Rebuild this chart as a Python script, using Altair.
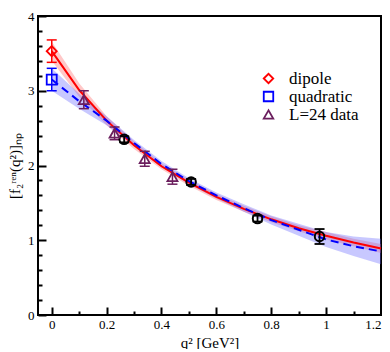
import altair as alt
import pandas as pd

# ---- data ----
q_grid = [0.0, 0.1, 0.2, 0.3, 0.4, 0.5, 0.6, 0.7, 0.8, 0.9, 1.0, 1.1, 1.2]
dipole_fit = [3.53, 3.01, 2.60, 2.27, 1.99, 1.77, 1.58, 1.42, 1.28, 1.16, 1.06, 0.97, 0.89]
dipole_err = [0.13, 0.09, 0.06, 0.05, 0.04, 0.04, 0.04, 0.04, 0.04, 0.04, 0.05, 0.05, 0.06]
quad_fit = [3.15, 2.86, 2.60, 2.30, 2.02, 1.79, 1.60, 1.43, 1.27, 1.14, 1.01, 0.92, 0.85]
quad_err = [0.15, 0.10, 0.06, 0.04, 0.04, 0.04, 0.04, 0.05, 0.06, 0.08, 0.10, 0.13, 0.17]

series_names = ["dipole", "quadratic", "L=24 data"]
series_colors = ["#ff0000", "#0000ff", "#6b1f5e"]
series_shapes = ["diamond", "square", "triangle-up"]

pt_series = ["dipole", "quadratic", "L=24 data", "L=24 data", "L=24 data", "L=24 data"]
pt_q = [0.0, 0.0, 0.117, 0.229, 0.339, 0.44]
pt_val = [3.53, 3.15, 2.88, 2.43, 2.09, 1.85]
pt_err = [0.15, 0.15, 0.12, 0.085, 0.10, 0.10]

circ_q = [0.264, 0.508, 0.75, 0.976]
circ_val = [2.35, 1.78, 1.29, 1.05]
circ_err = [0.04, 0.04, 0.04, 0.10]

x_major = [0, 0.2, 0.4, 0.6, 0.8, 1.0, 1.2]
x_minor = [0.1, 0.3, 0.5, 0.7, 0.9, 1.1]
y_major = [0, 1, 2, 3, 4]
y_minor = [0.2, 0.4, 0.6, 0.8, 1.2, 1.4, 1.6, 1.8, 2.2, 2.4, 2.6, 2.8, 3.2, 3.4, 3.6, 3.8]

# ---- tables ----
dip = pd.DataFrame({"q": q_grid, "v": dipole_fit, "e": dipole_err})
dip["lo"] = dip.v - dip.e
dip["hi"] = dip.v + dip.e
quad = pd.DataFrame({"q": q_grid, "v": quad_fit, "e": quad_err})
quad["lo"] = quad.v - quad.e
quad["hi"] = quad.v + quad.e
pts = pd.DataFrame({"series": pt_series, "q": pt_q, "v": pt_val, "e": pt_err})
pts["lo"] = pts.v - pts.e
pts["hi"] = pts.v + pts.e
circ = pd.DataFrame({"q": circ_q, "v": circ_val, "e": circ_err})
circ["lo"] = circ.v - circ.e
circ["hi"] = circ.v + circ.e

FONT = "Liberation Serif"
LFONT = "Liberation Serif, Times New Roman, serif"
xs = alt.Scale(domain=[-0.05, 1.2], nice=False, zero=False)
ys = alt.Scale(domain=[0, 4], nice=False, zero=False)

major_x = alt.Axis(values=x_major, format="~g", orient="bottom", offset=-8, tickSize=8,
                   tickWidth=2, tickColor="black", domain=False, grid=False,
                   labelPadding=3, labelFont=FONT, labelFontSize=13, labelColor="black",
                   title="q² [GeV²]", titleFont=FONT, titleFontSize=15, titleFontWeight="normal",
                   titleColor="black", titlePadding=4)
minor_x = alt.Axis(values=x_minor, orient="bottom", offset=-4, tickSize=4, tickWidth=2,
                   tickColor="black", domain=False, grid=False, labels=False, title=None)
major_y = alt.Axis(values=y_major, format="~g", orient="left", offset=-8, tickSize=8,
                   tickWidth=2, tickColor="black", domain=False, grid=False,
                   labelPadding=4, labelFont=FONT, labelFontSize=13, labelColor="black",
                   title="[f₂ʳᵉⁿ(q²)]ₙₚ", titleFont=FONT, titleFontSize=15,
                   titleFontWeight="normal", titleColor="black", titlePadding=5)
minor_y = alt.Axis(values=y_minor, orient="left", offset=-4, tickSize=4, tickWidth=2,
                   tickColor="black", domain=False, grid=False, labels=False, title=None)

band_red = alt.Chart(dip).mark_area(color="#ff6060", opacity=0.35).encode(
    x=alt.X("q:Q", scale=xs, axis=major_x),
    y=alt.Y("lo:Q", scale=ys, axis=major_y),
    y2="hi:Q",
)
band_blue = alt.Chart(quad).mark_area(color="#6060ff", opacity=0.35).encode(
    x=alt.X("q:Q", scale=xs, axis=minor_x),
    y=alt.Y("lo:Q", scale=ys, axis=minor_y),
    y2="hi:Q",
)
line_red = alt.Chart(dip).mark_line(color="#ff0000", strokeWidth=2).encode(
    x=alt.X("q:Q", scale=xs, axis=None), y=alt.Y("v:Q", scale=ys, axis=None))
line_blue = alt.Chart(quad).mark_line(color="#0000ff", strokeWidth=2, strokeDash=[8, 5]).encode(
    x=alt.X("q:Q", scale=xs, axis=None), y=alt.Y("v:Q", scale=ys, axis=None))

cscale = alt.Scale(domain=series_names, range=series_colors)
sscale = alt.Scale(domain=series_names, range=series_shapes)

legend_spec = alt.Legend(
    title=None, orient="none", legendX=222, legendY=54, padding=0,
    labelFont=LFONT, labelFontSize=17, labelColor="black", labelOffset=12,
    symbolSize=90, symbolStrokeWidth=1.8, rowPadding=0, symbolOpacity=1)

# error bars for the coloured points (their own colour scale, no legend)
err_pts = alt.Chart(pts).mark_rule(strokeWidth=1.5, opacity=1).encode(
    x=alt.X("q:Q", scale=xs, axis=None), y=alt.Y("lo:Q", scale=ys, axis=None), y2="hi:Q",
    color=alt.Color("series:N", scale=cscale, legend=None))
cap_lo = alt.Chart(pts).mark_tick(orient="horizontal", size=10, thickness=1.5, opacity=1).encode(
    x=alt.X("q:Q", scale=xs, axis=None), y=alt.Y("lo:Q", scale=ys, axis=None),
    color=alt.Color("series:N", scale=cscale, legend=None))
cap_hi = alt.Chart(pts).mark_tick(orient="horizontal", size=10, thickness=1.5, opacity=1).encode(
    x=alt.X("q:Q", scale=xs, axis=None), y=alt.Y("hi:Q", scale=ys, axis=None),
    color=alt.Color("series:N", scale=cscale, legend=None))
errbars = alt.layer(err_pts, cap_lo, cap_hi)

marks_pts = alt.Chart(pts).mark_point(filled=False, size=100, strokeWidth=1.8, opacity=1).encode(
    x=alt.X("q:Q", scale=xs, axis=None), y=alt.Y("v:Q", scale=ys, axis=None),
    color=alt.Color("series:N", scale=cscale, legend=legend_spec),
    shape=alt.Shape("series:N", scale=sscale, legend=legend_spec),
)

err_circ = alt.Chart(circ).mark_rule(strokeWidth=1.8, color="black", opacity=1).encode(
    x=alt.X("q:Q", scale=xs, axis=None), y=alt.Y("lo:Q", scale=ys, axis=None), y2="hi:Q")
capc_lo = alt.Chart(circ).mark_tick(orient="horizontal", size=10, thickness=1.8, color="black",
                                    opacity=1).encode(
    x=alt.X("q:Q", scale=xs, axis=None), y=alt.Y("lo:Q", scale=ys, axis=None))
capc_hi = alt.Chart(circ).mark_tick(orient="horizontal", size=10, thickness=1.8, color="black",
                                    opacity=1).encode(
    x=alt.X("q:Q", scale=xs, axis=None), y=alt.Y("hi:Q", scale=ys, axis=None))
marks_circ = alt.Chart(circ).mark_point(shape="circle", filled=False, size=90, strokeWidth=2,
                                        color="black", opacity=1).encode(
    x=alt.X("q:Q", scale=xs, axis=None), y=alt.Y("v:Q", scale=ys, axis=None))

chart = alt.layer(
    band_red, band_blue, line_red, line_blue,
    errbars, err_circ, capc_lo, capc_hi,
    marks_circ, marks_pts,
).resolve_axis(x="independent", y="independent").resolve_scale(
    color="independent", shape="independent"
).properties(
    width=343, height=299,
    autosize=alt.AutoSizeParams(type="none"),
    padding={"left": 30, "top": 8, "right": 1, "bottom": 34},
    background="white",
).configure(
    font=FONT, style={"guide-label": {"font": LFONT}}
).configure_view(stroke="black", strokeWidth=2).configure_legend(
    labelFont=LFONT, labelFontSize=17, labelColor="black"
)

chart.save("out.html", embed_options={"renderer": "svg", "actions": False})
